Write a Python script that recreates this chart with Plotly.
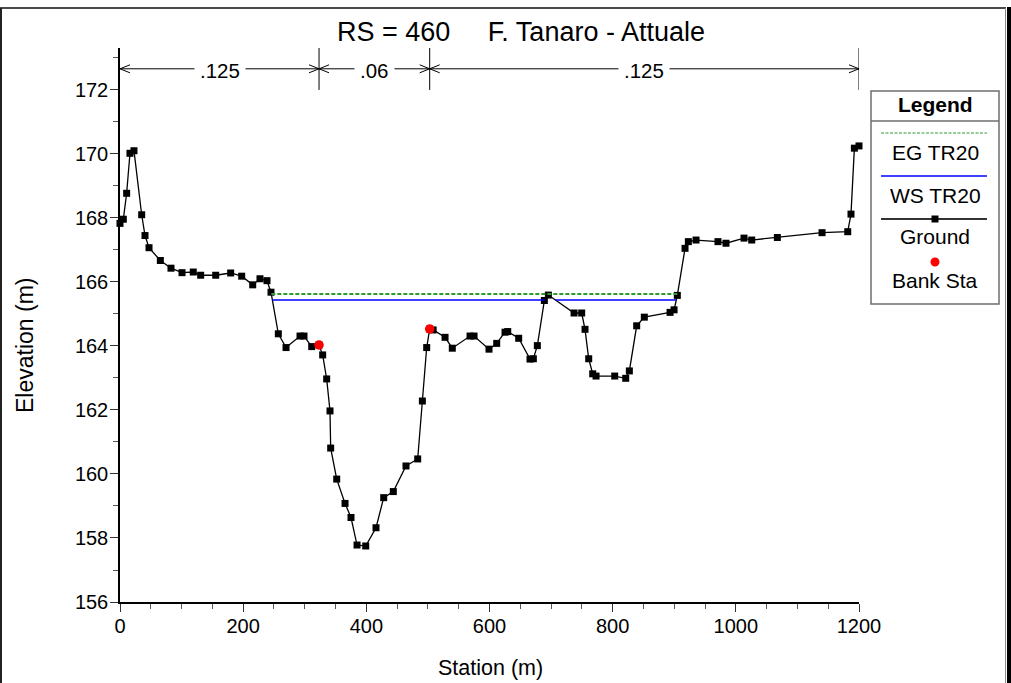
import numpy as np
import plotly.graph_objects as go

# ---- cross-section data -------------------------------------------------
station = [0.0, 5.4, 10.8, 16.2, 22.7, 35.2, 40.6, 47.1, 65.5, 82.8,
           100.7, 119.0, 131.0, 155.4, 179.7, 197.6, 215.5, 227.3, 238.7, 245.2,
           257.1, 269.6, 292.3, 298.8, 311.3, 323.2, 329.1, 335.6, 341.0, 342.1,
           351.9, 365.4, 375.1, 384.9, 399.0, 415.7, 428.2, 443.8, 464.4, 483.4,
           491.0, 498.0, 502.9, 508.5, 527.8, 539.6, 568.4, 574.9, 599.2, 611.7,
           625.2, 629.6, 647.4, 665.8, 671.2, 677.7, 689.1, 695.6, 737.3, 749.7,
           755.1, 761.1, 767.6, 773.0, 803.3, 821.2, 827.1, 839.0, 851.4, 893.2,
           899.7, 905.0, 917.5, 922.9, 935.4, 971.0, 984.0, 1013.3, 1025.8, 1067.4,
           1140.0, 1181.7, 1187.0, 1192.5, 1200.0]
elevation = [167.83, 167.96, 168.77, 170.02, 170.10, 168.10, 167.45, 167.07, 166.67, 166.43,
             166.29, 166.31, 166.21, 166.21, 166.28, 166.18, 165.91, 166.10, 166.04, 165.68,
             164.38, 163.95, 164.31, 164.31, 163.98, 164.03, 163.72, 162.97, 161.97, 160.81,
             159.84, 159.08, 158.64, 157.78, 157.75, 158.32, 159.26, 159.45, 160.25, 160.47,
             162.28, 163.95, 164.53, 164.50, 164.27, 163.93, 164.31, 164.31, 163.90, 164.08,
             164.43, 164.45, 164.24, 163.59, 163.60, 164.01, 165.42, 165.59, 165.03, 165.03,
             164.52, 163.60, 163.13, 163.06, 163.06, 162.99, 163.22, 164.63, 164.90, 165.05,
             165.13, 165.58, 167.05, 167.26, 167.31, 167.26, 167.21, 167.37, 167.31, 167.39,
             167.54, 167.57, 168.12, 170.18, 170.25]

bank_sta = [323.2, 502.9]
ws_elev = 165.44      # WS TR20
eg_elev = 165.62      # EG TR20

# Manning's n regions (left overbank, channel, right overbank)
mann_n = [".125", ".06", ".125"]
mann_bounds = [station[0], bank_sta[0], bank_sta[1], station[-1]]

x_ticks = [0, 200, 400, 600, 800, 1000, 1200]
y_ticks = [156, 158, 160, 162, 164, 166, 168, 170, 172]

X_RANGE = [0, 1200]
Y_RANGE = [156, 173.31]
FONT = "Arial, 'Liberation Sans', sans-serif"

# ---- page geometry ------------------------------------------------------
W, H = 1011, 683
ML, MR, MT, MB = 120, 152, 48, 81
PW, PH = W - ML - MR, H - MT - MB


def px(x):
    return (x - ML) / PW


def py(y):
    return (H - MB - y) / PH


def wet_line(sta, elev, level):
    """Horizontal water line between the points where the ground crosses `level`."""
    xs, ys = [], []
    if elev[0] < level:
        xs.append(sta[0]); ys.append(level)
    for i in range(len(sta) - 1):
        x0, z0, x1, z1 = sta[i], elev[i], sta[i + 1], elev[i + 1]
        below0, below1 = z0 < level, z1 < level
        if below0 != below1:
            xc = x0 + (level - z0) * (x1 - x0) / (z1 - z0)
            if below1:
                xs.append(xc); ys.append(level)
            else:
                xs += [xc, None]; ys += [level, None]
    return xs, ys


def label(x, y, text, size, **kw):
    d = dict(x=x, y=y, xref="paper", yref="paper", text=text, showarrow=False,
             xanchor="center", yanchor="middle",
             font=dict(family=FONT, size=size, color="black"))
    d.update(kw)
    return d


fig = go.Figure()

ws_x, ws_y = wet_line(station, elevation, ws_elev)
eg_x, eg_y = wet_line(station, elevation, eg_elev)

fig.add_trace(go.Scatter(x=station, y=elevation, mode="lines+markers", name="Ground",
                         line=dict(color="black", width=1.3),
                         marker=dict(symbol="square", size=7, color="black"),
                         cliponaxis=False))
fig.add_trace(go.Scatter(x=ws_x, y=ws_y, mode="lines", name="WS TR20",
                         line=dict(color="#0000ff", width=1.5), connectgaps=False))
fig.add_trace(go.Scatter(x=eg_x, y=eg_y, mode="lines", name="EG TR20",
                         line=dict(color="#2f9a2f", width=2, dash="4px,2px"), connectgaps=False))
fig.add_trace(go.Scatter(x=bank_sta, y=list(np.interp(bank_sta, station, elevation)),
                         mode="markers", name="Bank Sta",
                         marker=dict(symbol="circle", size=9.5, color="#ff0000"),
                         cliponaxis=False))

shapes = []
annotations = []

# ---- Manning's n bar above the section ---------------------------------
n_level = 172.66
shapes.append(dict(type="line", xref="x", yref="y", x0=mann_bounds[0], x1=mann_bounds[-1],
                   y0=n_level, y1=n_level, line=dict(color="black", width=1)))
for b in mann_bounds[1:]:
    shapes.append(dict(type="line", xref="x", yref="y", x0=b, x1=b, y0=172, y1=Y_RANGE[1],
                       line=dict(color="black", width=1)))
for i, lab in enumerate(mann_n):
    a, b = mann_bounds[i], mann_bounds[i + 1]
    for anchor, path in ((a, "M 10,4 L 0,0 L 10,-4"), (b, "M -10,4 L 0,0 L -10,-4")):
        shapes.append(dict(type="path", xref="x", yref="y", xsizemode="pixel", ysizemode="pixel",
                           xanchor=anchor, yanchor=n_level, path=path,
                           line=dict(color="black", width=1)))
    annotations.append(dict(x=(a + b) / 2, y=n_level, xref="x", yref="y", text=lab,
                            showarrow=False, bgcolor="white", borderpad=5, yshift=-2,
                            xanchor="center", yanchor="middle",
                            font=dict(family=FONT, size=20.5, color="black")))

# ---- legend box --------------------------------------------------------
LX0, LX1, LY0, LY1 = 871, 999, 91, 304
LXC = (LX0 + LX1) / 2
shapes.append(dict(type="rect", xref="paper", yref="paper", x0=px(LX0), x1=px(LX1),
                   y0=py(LY1), y1=py(LY0), line=dict(color="#6e6e6e", width=1.5),
                   fillcolor="white", layer="above"))
shapes.append(dict(type="line", xref="paper", yref="paper", x0=px(LX0), x1=px(LX1),
                   y0=py(121), y1=py(121), line=dict(color="#6e6e6e", width=1.5)))
annotations.append(label(px(LXC), py(104), "<b>Legend</b>", 21))

legend_rows = [
    ("EG TR20", 133, 152, dict(color="#2f9a2f", width=1, dash="3px,1.5px")),
    ("WS TR20", 176, 195, dict(color="#0000ff", width=1.3)),
    ("Ground", 219, 237, dict(color="#333333", width=2)),
]
for lab, ly, ty, lstyle in legend_rows:
    shapes.append(dict(type="line", xref="paper", yref="paper", x0=px(881), x1=px(987),
                       y0=py(ly), y1=py(ly), line=lstyle, layer="above"))
    annotations.append(label(px(LXC), py(ty), lab, 21))
shapes.append(dict(type="rect", xref="paper", yref="paper", x0=px(LXC - 3.5), x1=px(LXC + 3.5),
                   y0=py(222.5), y1=py(215.5), fillcolor="black", line=dict(width=0),
                   layer="above"))
shapes.append(dict(type="circle", xref="paper", yref="paper", x0=px(LXC - 4.5), x1=px(LXC + 4.5),
                   y0=py(266.5), y1=py(257.5), fillcolor="#ff0000", line=dict(width=0),
                   layer="above"))
annotations.append(label(px(LXC), py(280), "Bank Sta", 21))

# ---- axis titles ------------------------------------------------------
annotations.append(label(px(25), py(346), "Elevation (m)", 23, textangle=-90))
annotations.append(label(px(490), py(668), "Station (m)", 21.5))

# ---- window frame ------------------------------------------------------
shapes.append(dict(type="line", xref="paper", yref="paper", x0=px(0), x1=px(1006),
                   y0=py(8), y1=py(8), line=dict(color="#4a4a4a", width=2)))
shapes.append(dict(type="line", xref="paper", yref="paper", x0=px(1), x1=px(1),
                   y0=py(8), y1=py(H + 2), line=dict(color="#222222", width=2)))
shapes.append(dict(type="line", xref="paper", yref="paper", x0=px(1005.5), x1=px(1005.5),
                   y0=py(8), y1=py(H + 2), line=dict(color="#888888", width=1)))
shapes.append(dict(type="line", xref="paper", yref="paper", x0=px(1009), x1=px(1009),
                   y0=py(7), y1=py(H + 2), line=dict(color="black", width=4)))

fig.update_layout(
    width=W, height=H,
    margin=dict(l=ML, r=MR, t=MT, b=MB),
    paper_bgcolor="white", plot_bgcolor="white",
    showlegend=False,
    title=dict(text="RS = 460&nbsp;&nbsp;&nbsp;&nbsp;&nbsp;F. Tanaro - Attuale",
               xref="container", yref="container", x=521 / W, y=1 - 32 / H,
               xanchor="center", yanchor="middle",
               font=dict(family=FONT, size=27, color="black")),
    shapes=shapes,
    annotations=annotations,
    xaxis=dict(range=X_RANGE, tickvals=x_ticks, showgrid=False, zeroline=False,
               showline=True, linecolor="black", linewidth=1.5,
               ticks="outside", ticklen=8, tickwidth=1, tickcolor="#333333",
               ticklabelstandoff=-3,
               minor=dict(dtick=50, ticks="outside", ticklen=5, tickcolor="#555555", showgrid=False),
               tickfont=dict(family=FONT, size=20, color="black")),
    yaxis=dict(range=Y_RANGE, tickvals=y_ticks, showgrid=False, zeroline=False,
               showline=True, linecolor="black", linewidth=1.5,
               ticks="outside", ticklen=8, tickwidth=1, tickcolor="#333333",
               ticklabelstandoff=-2,
               minor=dict(dtick=1, ticks="outside", ticklen=5, tickcolor="#555555", showgrid=False),
               tickfont=dict(family=FONT, size=20, color="black")),
)

fig.write_html("out.html")
